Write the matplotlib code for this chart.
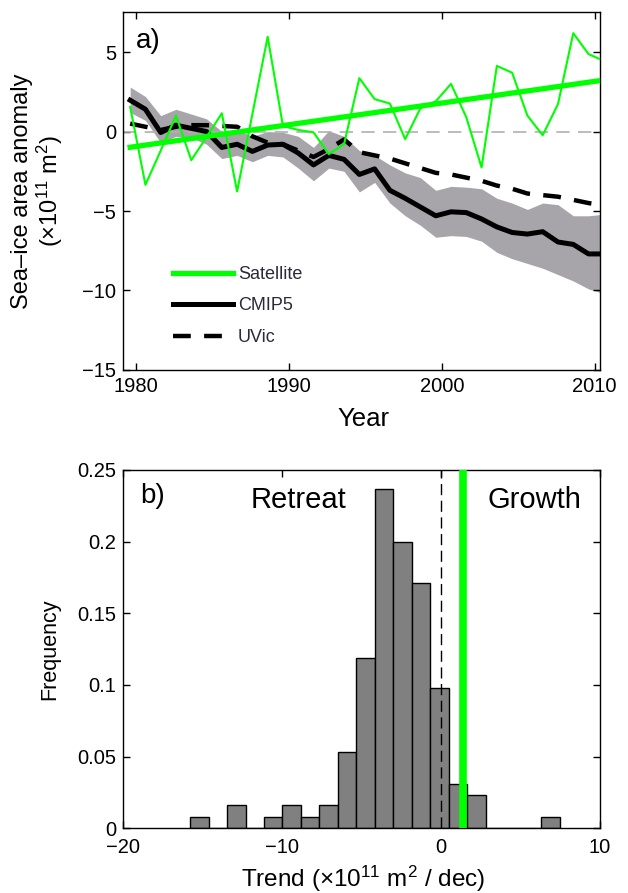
"""Sea-ice area anomaly (a) and histogram of CMIP5 trends (b)."""
import matplotlib
import numpy as np

matplotlib.use("Agg")
import matplotlib.pyplot as plt

plt.rcParams["font.family"] = ["Liberation Sans", "DejaVu Sans"]
plt.rcParams["mathtext.fontset"] = "custom"
plt.rcParams["mathtext.rm"] = "Liberation Sans"
plt.rcParams["mathtext.it"] = "Liberation Sans:italic"
plt.rcParams["axes.unicode_minus"] = True

# --- panel a data (annual values, 1979-2010) ---
years = np.arange(1979, 2011)
satellite = [1.55, -3.35, -1.2, 1.0, -1.8, -0.35, 1.15, -3.77, 1.1, 5.96,
             0.35, 0.1, -0.05, -1.42, -0.8, 3.36, 2.04, 1.76, -0.48, 1.47,
             1.9, 3.0, 0.9, -2.26, 4.13, 3.7, 1.0, -0.23, 1.72, 6.19,
             4.87, 4.45]
cmip5_mean = [1.97, 1.4, -0.06, 0.4, 0.2, 0.0, -1.0, -0.8, -1.25, -0.85,
              -0.8, -1.35, -2.1, -1.5, -1.75, -2.7, -2.35, -3.7, -4.2, -4.75,
              -5.3, -5.05, -5.1, -5.5, -6.0, -6.35, -6.45, -6.3, -6.95, -7.1,
              -7.7, -7.7]
cmip5_upper = [2.8, 2.2, 1.0, 1.4, 1.1, 0.8, 0.0, 0.1, -0.3, 0.0,
               -0.05, -0.3, -1.0, 0.05, -0.3, -1.2, -1.5, -2.1, -2.6, -2.9,
               -3.7, -3.45, -3.5, -3.6, -4.2, -4.5, -4.9, -4.5, -4.6, -5.3,
               -5.3, -5.2]
cmip5_lower = [1.2, 0.7, -0.7, -0.3, -0.4, -0.8, -1.7, -1.5, -1.9, -1.5,
               -1.6, -2.3, -3.1, -2.3, -2.5, -3.8, -3.2, -4.5, -5.3, -5.9,
               -6.65, -6.55, -6.6, -6.9, -7.6, -8.0, -8.3, -8.6, -9.0, -9.4,
               -9.9, -10.2]
uvic = [0.5, 0.3, 0.1, 0.3, 0.4, 0.4, 0.35, 0.3, -0.3, -0.7,
        -0.8, -1.2, -1.6, -1.1, -0.5, -1.3, -1.5, -1.7, -2.0, -2.3,
        -2.6, -2.7, -2.9, -3.1, -3.4, -3.6, -3.9, -4.0, -4.1, -4.3,
        -4.5, -4.65]

# --- panel b data (histogram of trends) ---
bin_edges = np.linspace(-15.8, 7.48, 21)
frequency = [0.008, 0.0, 0.016, 0.0, 0.008, 0.016, 0.008, 0.016, 0.053, 0.119,
             0.237, 0.2, 0.171, 0.098, 0.031, 0.023, 0.0, 0.0, 0.0, 0.008]
satellite_trend = 1.38

GREEN = "#00ff00"
SHADE = "#a7a5aa"

fig = plt.figure(figsize=(6.28, 8.93), dpi=100)
ax_a = fig.add_axes([0.1963, 0.5857, 0.7591, 0.4005])
ax_b = fig.add_axes([0.1963, 0.0725, 0.7591, 0.4012])

# --- panel a ---
x = years + 0.6
ax_a.fill_between(x, cmip5_lower, cmip5_upper, color=SHADE, lw=0, zorder=1)
ax_a.axhline(0, color="#b0b0b0", lw=1.2, dashes=(8, 5), zorder=2)
ax_a.plot(x, uvic, color="k", lw=3.2, dashes=(4, 3), zorder=3, label="UVic")
ax_a.plot(x, cmip5_mean, color="k", lw=3.6, zorder=4, label="CMIP5")
ax_a.plot(x, satellite, color=GREEN, lw=1.5, zorder=5)
slope, intercept = np.polyfit(x, satellite, 1)
ax_a.plot(x, intercept + slope * x, color=GREEN, lw=3.8, zorder=6,
          label="Satellite")

handles, labels = ax_a.get_legend_handles_labels()
order = [2, 1, 0]
leg = ax_a.legend([handles[i] for i in order], [labels[i] for i in order],
                  loc="center left", bbox_to_anchor=(0.105, 0.179),
                  frameon=False, borderpad=0, borderaxespad=0, fontsize=13,
                  handlelength=3.3, handletextpad=0.28, labelspacing=0.8)
for t in leg.get_texts():
    t.set_color("#2a2a3a")

ax_a.set_xlim(1979.15, 2010.35)
ax_a.set_ylim(-15, 7.5)
ax_a.set_xticks([1980, 1990, 2000, 2010])
ax_a.set_yticks([-15, -10, -5, 0, 5])
ax_a.text(1979.95, 5.25, "a)", fontsize=20)
ax_a.set_xlabel("Year", fontsize=18.5)
ax_a.set_ylabel("Sea\u2013ice area anomaly\n(\u00d710$^{11}$ m$^{2}$)",
                fontsize=17, linespacing=1.1)
ax_a.xaxis.set_label_coords(0.503, -0.103)
ax_a.yaxis.set_label_coords(-0.122, 0.5)

# --- panel b ---
ax_b.bar(bin_edges[:-1], frequency, width=np.diff(bin_edges), align="edge",
         color="#808080", edgecolor="k", lw=1.0, zorder=2)
ax_b.plot([0, 0], [0, 0.25], color="k", lw=1.0, dashes=(8, 4), zorder=3)
ax_b.axvline(satellite_trend, color=GREEN, lw=5.5, zorder=4)
ax_b.set_xlim(-20, 10)
ax_b.set_ylim(0, 0.25)
ax_b.set_xticks([-20, -10, 0, 10])
ax_b.set_yticks([0, 0.05, 0.1, 0.15, 0.2, 0.25])
ax_b.set_yticklabels(["0", "0.05", "0.1", "0.15", "0.2", "0.25"])
ax_b.text(-18.95, 0.227, "b)", fontsize=20)
ax_b.text(-8.97, 0.2237, "Retreat", fontsize=21, ha="center")
ax_b.text(5.88, 0.2237, "Growth", fontsize=21, ha="center")
ax_b.set_xlabel("Trend (\u00d710$^{11}$ m$^{2}$ / dec)", fontsize=17.5)
ax_b.set_ylabel("Frequency", fontsize=15.5)
ax_b.xaxis.set_label_coords(0.503, -0.1)
ax_b.yaxis.set_label_coords(-0.133, 0.5)

for ax in (ax_a, ax_b):
    ax.tick_params(direction="in", top=True, right=True, length=5,
                   width=1.0, labelsize=14.5, pad=5)
    for spine in ax.spines.values():
        spine.set_linewidth(1.0)
ax_b.tick_params(axis="x", pad=7)

fig.savefig("out.png", dpi=100)
plt.close(fig)
